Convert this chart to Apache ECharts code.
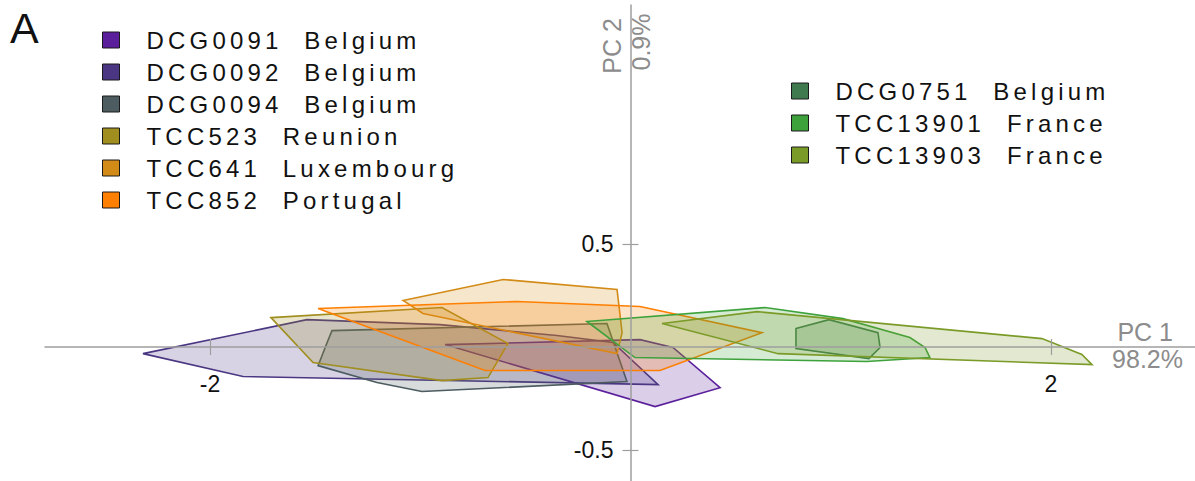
<!DOCTYPE html>
<html>
<head>
<meta charset="utf-8">
<title>PCA hulls</title>
<script src="https://cdn.jsdelivr.net/npm/echarts@6/dist/echarts.min.js"></script>
<style>
  html, body { margin: 0; padding: 0; background: #fff; }
  #main { width: 1195px; height: 481px; }
  /* legend text is spaced out in the original figure */
  #main text[style*="Helvetica"], #main text[font-family*="Helvetica"] { letter-spacing: 4.2px; white-space: pre; }
</style>
</head>
<body>
<div id="main"></div>
<script>
// legend names and colours
var groups = ['DCG0091  Belgium', 'DCG0092  Belgium', 'DCG0094  Belgium', 'TCC523  Reunion',
              'TCC641  Luxembourg', 'TCC852  Portugal', 'DCG0751  Belgium', 'TCC13901  France', 'TCC13903  France'];
var colors = ['#5b1f9c', '#4a3682', '#4c5c61', '#a08e1e', '#d38b17', '#ff7f00', '#3f7a4e', '#3ea23c', '#7b9b28'];

// hull vertices [PC1, PC2]
var dcg0091 = [[-0.882, 0.012], [0.045, 0.036], [0.202, -0.002], [0.426, -0.197], [0.117, -0.289]];
var dcg0092 = [[-2.319, -0.032], [-1.539, 0.133], [-0.906, 0.109], [-0.350, 0.056], [-0.083, 0.022], [0.131, -0.182], [-1.843, -0.143]];
var dcg0094 = [[-1.420, 0.080], [-1.443, 0.022], [-1.486, -0.090], [-1.206, -0.172], [-0.992, -0.216], [-0.017, -0.167], [-0.112, 0.114]];
var tcc523 = [[-1.710, 0.143], [-0.897, 0.192], [-0.583, 0.017], [-0.678, -0.148], [-0.897, -0.163], [-1.510, -0.075]];
var tcc641 = [[-1.082, 0.226], [-0.606, 0.328], [-0.064, 0.279], [-0.040, 0.070], [-0.064, -0.032], [-0.987, 0.163]];
var tcc852 = [[-1.486, 0.187], [-0.540, 0.221], [0.045, 0.197], [0.625, 0.070], [0.140, -0.114], [-0.692, -0.114]];
var dcg0751 = [[0.787, 0.090], [0.944, 0.133], [1.177, 0.070], [1.187, -0.002], [1.134, -0.056], [0.787, -0.007]];
var tcc13901 = [[-0.207, 0.124], [0.640, 0.192], [1.011, 0.138], [1.329, 0.046], [1.401, -0.002], [1.424, -0.051], [1.124, -0.070], [0.021, -0.051]];
var tcc13903 = [[0.150, 0.114], [0.602, 0.172], [1.957, 0.041], [2.147, -0.036], [2.195, -0.085], [0.702, -0.032]];
var hulls = [dcg0091, dcg0092, dcg0094, tcc523, tcc641, tcc852, dcg0751, tcc13901, tcc13903];

var xTicks = [-2, 2];
var yTicks = [-0.5, 0.5];

var axisGray = '#9e9e9e';
var nameGray = '#8c8c8c';

function hullSeries(name, pts, color) {
    return {
        name: name,
        type: 'custom',
        coordinateSystem: 'cartesian2d',
        silent: true,
        z: 2,
        itemStyle: { color: color },
        data: pts,
        renderItem: function (params, api) {
            if (params.dataIndex !== 0) return null;
            var points = pts.map(function (p) { return api.coord(p); });
            return {
                type: 'polygon',
                shape: { points: points },
                style: {
                    fill: echarts.color.modifyAlpha(color, 0.22),
                    stroke: color,
                    lineWidth: 1.6
                }
            };
        }
    };
}

var legendCommon = {
    orient: 'vertical',
    padding: 0,
    itemGap: 0,
    itemWidth: 17,
    itemHeight: 16,
    icon: 'rect',
    selectedMode: false,
    itemStyle: { borderColor: '#1a1a1a', borderWidth: 1 },
    textStyle: { fontFamily: 'Liberation Sans, Helvetica', fontSize: 24, color: '#111', lineHeight: 32, padding: [0, 0, 0, 22] }
};

// the axes cross at the origin; grid edges are 45 / 1195 (x) and 5 / 481 (y)
var xMin = -2.785, xMax = 2.685, yMin = -0.650, yMax = 1.660;

var myChart = echarts.init(document.getElementById('main'), null, { renderer: 'svg' });

var option = {
    animation: false,
    grid: { left: 45, right: 0, top: 5, bottom: 0, containLabel: false, outerBoundsMode: 'none' },
    legend: [
        Object.assign({ data: groups.slice(0, 6), left: 102, top: 24 }, legendCommon),
        Object.assign({ data: groups.slice(6), left: 791, top: 75 }, legendCommon)
    ],
    xAxis: [{
        type: 'value', min: xMin, max: xMax, position: 'bottom', offset: -134, z: 5,
        axisLine: { onZero: false, lineStyle: { color: axisGray, width: 1.5 } },
        axisTick: { show: true, length: 8, customValues: xTicks, lineStyle: { color: axisGray, width: 1.2 } },
        axisLabel: { customValues: xTicks, margin: 25, fontSize: 23, color: '#111', fontFamily: 'Liberation Sans' },
        splitLine: { show: false }
    }, {
        type: 'value', min: xMin, max: xMax, position: 'top', offset: -342, z: 5,
        axisLine: { show: false, onZero: false },
        axisTick: { show: true, length: 8, customValues: xTicks, lineStyle: { color: axisGray, width: 1.2 } },
        axisLabel: { show: false },
        splitLine: { show: false }
    }],
    yAxis: [{
        type: 'value', min: yMin, max: yMax, position: 'left', offset: -585.5, z: 5,
        axisLine: { onZero: false, lineStyle: { color: axisGray, width: 1.5 } },
        axisTick: { show: true, length: 8, customValues: yTicks, lineStyle: { color: axisGray, width: 1.2 } },
        axisLabel: { customValues: yTicks, margin: 17, fontSize: 23, color: '#111', fontFamily: 'Liberation Sans' },
        splitLine: { show: false }
    }, {
        type: 'value', min: yMin, max: yMax, position: 'right', offset: -564.5, z: 5,
        axisLine: { show: false, onZero: false },
        axisTick: { show: true, length: 8, customValues: yTicks, lineStyle: { color: axisGray, width: 1.2 } },
        axisLabel: { show: false },
        splitLine: { show: false }
    }],
    graphic: [
        { type: 'text', x: 10, y: 28, style: { text: 'A', font: '43px Liberation Sans', fill: '#111', align: 'left', verticalAlign: 'middle' } },
        { type: 'text', x: 1173, y: 332, style: { text: 'PC 1', font: '25px Liberation Sans', fill: nameGray, align: 'right', verticalAlign: 'middle' } },
        { type: 'text', x: 1183, y: 359, style: { text: '98.2%', font: '25px Liberation Sans', fill: nameGray, align: 'right', verticalAlign: 'middle' } },
        { type: 'text', x: 612, y: 46, rotation: Math.PI / 2, style: { text: 'PC 2', font: '25px Liberation Sans', fill: nameGray, align: 'center', verticalAlign: 'middle' } },
        { type: 'text', x: 641, y: 42, rotation: Math.PI / 2, style: { text: '0.9%', font: '25px Liberation Sans', fill: nameGray, align: 'center', verticalAlign: 'middle' } }
    ],
    series: hulls.map(function (pts, i) { return hullSeries(groups[i], pts, colors[i]); })
};

myChart.setOption(option);
</script>
</body>
</html>
